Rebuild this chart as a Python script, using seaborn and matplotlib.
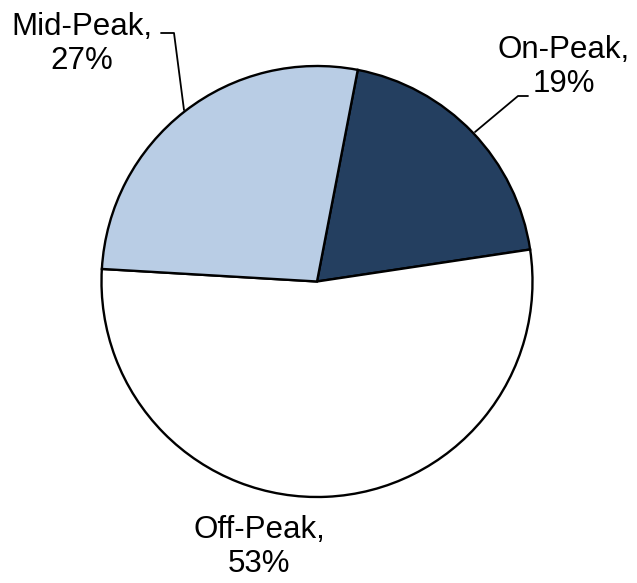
import matplotlib
matplotlib.use("Agg")
import matplotlib.pyplot as plt
import seaborn as sns

sns.set_style("white")
plt.rcParams['font.family'] = ['Liberation Sans', 'DejaVu Sans']

categories = ["On-Peak", "Off-Peak", "Mid-Peak"]
values = [19.6, 53.3, 27.1]
pct_labels = ["19%", "53%", "27%"]
colors = ["#243F60", "#FFFFFF", "#B9CDE5"]

W, H = 637, 583
fig = plt.figure(figsize=(W / 100, H / 100), dpi=100)
ax = fig.add_axes([0, 0, 1, 1])

cx, cy, r = 317, H - 281.5, 215.5
ax.pie(values, colors=colors, startangle=79.1, counterclock=False,
       center=(cx, cy), radius=r, frame=True,
       wedgeprops=dict(edgecolor="black", linewidth=1.7))
ax.set_xlim(0, W)
ax.set_ylim(0, H)
ax.set_aspect("equal")
ax.axis("off")

fs = 22.5
# label positions in pixel coordinates (x, y from top)
label_pos = {"On-Peak": (564, 67), "Off-Peak": (259, 547), "Mid-Peak": (82, 44)}
for cat, pct in zip(categories, pct_labels):
    x, y = label_pos[cat]
    ax.text(x, H - y, f"{cat},\n{pct}", ha="center", va="center",
            multialignment="center", fontsize=fs, color="black",
            linespacing=1.2)

# leader lines
ax.plot([161, 174, 184], [H - 33, H - 33, H - 110], color="black", lw=1.3)
ax.plot([475, 518, 528], [H - 132, H - 96, H - 96], color="black", lw=1.3)

fig.savefig("out.png", dpi=100)
